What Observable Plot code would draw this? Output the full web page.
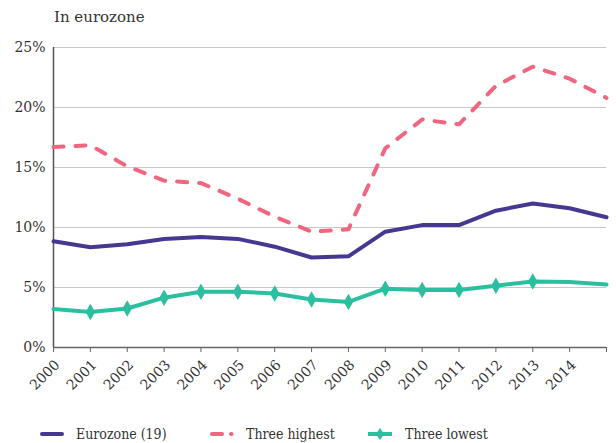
<!DOCTYPE html>
<html>
<head>
<meta charset="utf-8">
<script src="https://cdn.jsdelivr.net/npm/d3@7"></script>
<script src="https://cdn.jsdelivr.net/npm/@observablehq/plot@0.6"></script>
<style>
  html, body { margin: 0; padding: 0; background: #fff; }
  #wrap { position: relative; width: 616px; height: 443px; font-family: "DejaVu Serif", serif; color: #333; }
  #title { position: absolute; left: 54px; top: 8px; font-size: 15px; }
  #chart { position: absolute; left: 0; top: 0; }
  .leg { position: absolute; top: 425px; height: 18px; line-height: 18px; font-family: "DejaVu Serif Condensed", "DejaVu Serif", serif; font-stretch: condensed; font-size: 14px; display: flex; align-items: center; white-space: nowrap; }
  .leg svg { margin-right: 12px; }
</style>
</head>
<body>
<div id="wrap">
  <div id="chart"></div>
  <div id="title">In eurozone</div>
</div>
<script>
// Data
const years = [2000, 2001, 2002, 2003, 2004, 2005, 2006, 2007, 2008, 2009, 2010, 2011, 2012, 2013, 2014, 2015];
const eurozone = [8.85, 8.35, 8.6, 9.05, 9.2, 9.05, 8.4, 7.5, 7.6, 9.65, 10.2, 10.2, 11.4, 12.0, 11.6, 10.85];
const threeHighest = [16.7, 16.85, 15.1, 13.9, 13.7, 12.4, 10.9, 9.65, 9.85, 16.6, 19.0, 18.6, 21.8, 23.4, 22.4, 20.8];
const threeLowest = [3.2, 2.95, 3.25, 4.15, 4.65, 4.65, 4.5, 4.0, 3.8, 4.9, 4.8, 4.8, 5.15, 5.5, 5.45, 5.25];
const markerYears = [2001, 2002, 2003, 2004, 2005, 2006, 2007, 2008, 2009, 2010, 2011, 2012, 2013];
const yTicks = [0, 5, 10, 15, 20, 25];
const xTickLabels = ["2000", "2001", "2002", "2003", "2004", "2005", "2006", "2007", "2008", "2009", "2010", "2011", "2012", "2013", "2014"];
const seriesNames = ["Eurozone (19)", "Three highest", "Three lowest"];
const colors = ["#463791", "#f0657f", "#2cbf9f"];

const euro = years.map((year, i) => ({year, value: eurozone[i]}));
const high = years.map((year, i) => ({year, value: threeHighest[i]}));
const low = years.map((year, i) => ({year, value: threeLowest[i]}));
const lowMarks = low.filter(d => markerYears.includes(d.year));

const chart = Plot.plot({
  width: 616,
  height: 400,
  marginLeft: 53,
  marginRight: 10,
  marginTop: 47,
  marginBottom: 53,
  style: { fontFamily: "DejaVu Serif, serif", fontSize: "14px", color: "#333", background: "transparent" },
  x: { domain: [2000, 2015], label: null },
  y: { domain: [0, 25], label: null },
  marks: [
    Plot.gridY(yTicks.filter(t => t > 0), { stroke: "#c8c8c8", strokeOpacity: 1, strokeWidth: 1 }),
    Plot.axisY(yTicks, { tickSize: 0, tickPadding: 8, tickFormat: d => d + "%", fontSize: 14, fill: "#333", label: null }),
    Plot.axisX(years, { tickSize: 5, stroke: "#666", tickFormat: () => "", label: null }),
    Plot.text(xTickLabels, { x: d => +d, text: d => d, frameAnchor: "bottom", rotate: -45, textAnchor: "end", lineAnchor: "middle", dy: 15, dx: 4, fontSize: 14, fill: "#333" }),
    Plot.ruleY([0], { stroke: "#666", strokeWidth: 1.5 }),
    Plot.ruleX([2000], { stroke: "#555", strokeWidth: 1.5 }),
    Plot.line(low, { x: "year", y: "value", stroke: colors[2], strokeWidth: 4 }),
    Plot.dot(lowMarks, { x: "year", y: "value", symbol: "diamond", r: 5, fill: colors[2], stroke: null }),
    Plot.line(euro, { x: "year", y: "value", stroke: colors[0], strokeWidth: 4 }),
    Plot.line(high, { x: "year", y: "value", stroke: colors[1], strokeWidth: 4, strokeDasharray: "10 12", strokeLinecap: "round" })
  ]
});
document.getElementById("chart").appendChild(chart);

// Legend
const legendLeft = [40, 210, 367];
const wrap = document.getElementById("wrap");
seriesNames.forEach((name, i) => {
  const div = document.createElement("div");
  div.className = "leg";
  div.style.left = legendLeft[i] + "px";
  let sw = "";
  if (i === 0) sw = `<line x1="2" y1="8" x2="22" y2="8" stroke="${colors[0]}" stroke-width="4" stroke-linecap="round"/>`;
  if (i === 1) sw = `<line x1="2" y1="8" x2="12" y2="8" stroke="${colors[1]}" stroke-width="4" stroke-linecap="round"/><line x1="21" y1="8" x2="21.5" y2="8" stroke="${colors[1]}" stroke-width="4" stroke-linecap="round"/>`;
  if (i === 2) sw = `<line x1="1" y1="8" x2="25" y2="8" stroke="${colors[2]}" stroke-width="4"/><path d="M13 2 L17 8 L13 14 L9 8 Z" fill="${colors[2]}"/>`;
  div.innerHTML = `<svg width="${i === 2 ? 26 : 24}" height="16">${sw}</svg><span>${name}</span>`;
  wrap.appendChild(div);
});
</script>
</body>
</html>
